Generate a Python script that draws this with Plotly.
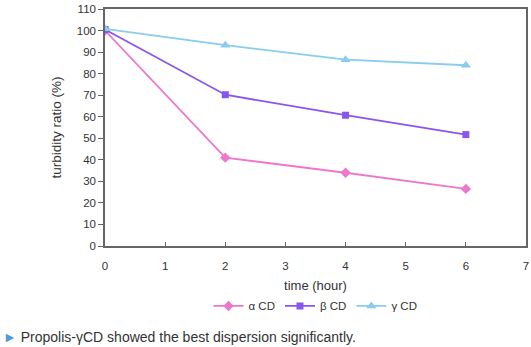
import plotly.graph_objects as go

time_h = [0, 2, 4, 6]
alpha_cd = [100, 41, 34, 26.5]
beta_cd = [100.5, 70.2, 60.7, 51.7]
gamma_cd = [100.8, 93.2, 86.5, 83.9]
series_names = ["\u03b1 CD", "\u03b2 CD", "\u03b3 CD"]
x_ticks = [0, 1, 2, 3, 4, 5, 6, 7]
y_ticks = list(range(0, 111, 10))

fig = go.Figure()
styles = [
    (alpha_cd, "#EE77CC", "diamond", 8),
    (beta_cd, "#8855EE", "square", 7),
    (gamma_cd, "#88CCEE", "triangle-up", 9),
]
for name, (vals, col, sym, sz) in zip(series_names, styles):
    fig.add_trace(go.Scatter(
        x=time_h, y=vals, name=name, mode="lines+markers",
        line=dict(color=col, width=1.8),
        marker=dict(color=col, symbol=sym, size=sz),
    ))

font = "Liberation Sans, Arial, sans-serif"
fig.update_layout(
    width=531, height=347,
    margin=dict(l=105, r=3, t=3, b=101),
    plot_bgcolor="white", paper_bgcolor="white",
    font=dict(family=font, size=11.5, color="#333333"),
    showlegend=True,
    legend=dict(orientation="h", x=0.5, xanchor="center", y=-0.253, yanchor="middle",
                font=dict(size=11.5, color="#333333"), itemwidth=30, tracegroupgap=0),
    xaxis=dict(range=[0, 7], tickvals=x_ticks, ticks="inside", ticklen=4,
               tickcolor="#666666", showline=True, linecolor="#666666", linewidth=1.5,
               mirror=True, showgrid=False, zeroline=False,
               tickfont=dict(size=11.5), ticklabelstandoff=8,
               title=dict(text="time (hour)", font=dict(size=13), standoff=10)),
    yaxis=dict(range=[0, 110], tickvals=y_ticks, ticks="outside", ticklen=5,
               tickcolor="#666666", showline=True, linecolor="#666666", linewidth=1.5,
               mirror=True, showgrid=False, zeroline=False,
               tickfont=dict(size=11.5), ticklabeloverflow="allow",
               title=dict(text="turbidity ratio (%)", font=dict(size=13.5), standoff=12)),
)
fig.add_annotation(
    xref="paper", yref="paper", x=-0.248, y=-0.385, xanchor="left", yanchor="middle",
    text="<span style='color:#5599DD'>\u25ba</span> Propolis-\u03b3CD showed the best dispersion significantly.",
    showarrow=False, font=dict(family=font, size=14, color="#333333"),
)
fig.write_html("out.html")
